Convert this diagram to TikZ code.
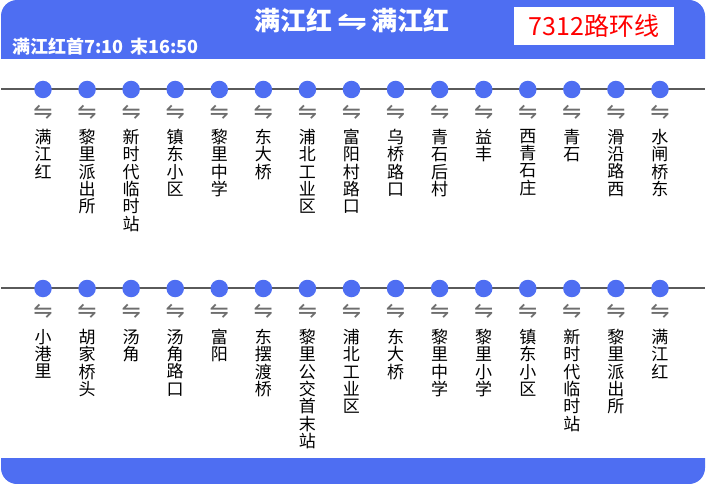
\documentclass[tikz,border=0pt]{standalone}
\usepackage{fontspec}
\setmainfont{Noto Sans CJK SC}
\newfontfamily\symfont{DejaVu Sans}
\definecolor{mainblue}{RGB}{78,110,242}
\definecolor{linegray}{RGB}{90,90,90}
\definecolor{arrowgray}{RGB}{110,110,110}
\tikzset{
  stopdot/.style={circle, fill=mainblue, inner sep=0pt, minimum size=17.5pt},
  stopname/.style={anchor=north, inner sep=0pt, align=center, font=\fontsize{17}{17.3}\selectfont},
  stoparrow/.style={inner sep=0pt, text=arrowgray, font=\symfont\fontsize{23}{23}\selectfont},
  routeline/.style={draw=linegray, line width=1.1pt},
}
\begin{document}
\begin{tikzpicture}[x=1pt,y=-1pt]
\useasboundingbox (0,0) rectangle (706,484);
% header band
\begin{scope}
  \clip (0,0) rectangle (706,59);
  \fill[mainblue, rounded corners=16pt] (1,0) rectangle (705,100);
\end{scope}
% bottom band
\begin{scope}
  \clip (0,458) rectangle (706,484);
  \fill[mainblue, rounded corners=16pt] (1,420) rectangle (705,484);
\end{scope}
% title
\node[text=white, inner sep=0pt, font=\bfseries\fontsize{26}{26}\selectfont] (title) at (352,20)
  {满江红\,{\symfont\scalebox{1.4}[1]{⇋}}\,满江红};
\node[text=white, anchor=west, inner sep=0pt, font=\bfseries\fontsize{18}{18}\selectfont] (hours) at (12,46.5)
  {满江红首7:10\, 末16:50};
\node[fill=white, inner sep=0pt, minimum width=160pt, minimum height=38pt] (badge) at (594,26) {};
\node[text=red, inner sep=0pt, font=\fontsize{25}{25}\selectfont] (badgetext) at (badge.center) {7312路环线};
% route lines
\coordinate (la) at (1,89);
\coordinate (lb) at (705,89);
\coordinate (lc) at (1,288);
\coordinate (ld) at (705,288);
\draw[routeline] (la) -- (lb);
\draw[routeline] (lc) -- (ld);
% row 1
\foreach \n [count=\i] in {满\\江\\红, 黎\\里\\派\\出\\所, 新\\时\\代\\临\\时\\站, 镇\\东\\小\\区, 黎\\里\\中\\学, 东\\大\\桥, 浦\\北\\工\\业\\区, 富\\阳\\村\\路\\口, 乌\\桥\\路\\口, 青\\石\\后\\村, 益\\丰, 西\\青\\石\\庄, 青\\石, 滑\\沿\\路\\西, 水\\闸\\桥\\东} {
  \pgfmathsetmacro{\xx}{43+44.07*(\i-1)}
  \node[stopdot] (a\i) at (\xx,89.5) {};
  \node[stoparrow] (aa\i) at (\xx,112) {⇋};
  \node[stopname] (an\i) at (\xx,129) {\n};
}
% row 2
\foreach \n [count=\i] in {小\\港\\里, 胡\\家\\桥\\头, 汤\\角, 汤\\角\\路\\口, 富\\阳, 东\\摆\\渡\\桥, 黎\\里\\公\\交\\首\\末\\站, 浦\\北\\工\\业\\区, 东\\大\\桥, 黎\\里\\中\\学, 黎\\里\\小\\学, 镇\\东\\小\\区, 新\\时\\代\\临\\时\\站, 黎\\里\\派\\出\\所, 满\\江\\红} {
  \pgfmathsetmacro{\xx}{43+44.07*(\i-1)}
  \node[stopdot] (b\i) at (\xx,288.5) {};
  \node[stoparrow] (ba\i) at (\xx,311) {⇋};
  \node[stopname] (bn\i) at (\xx,329) {\n};
}
\end{tikzpicture}
\end{document}
